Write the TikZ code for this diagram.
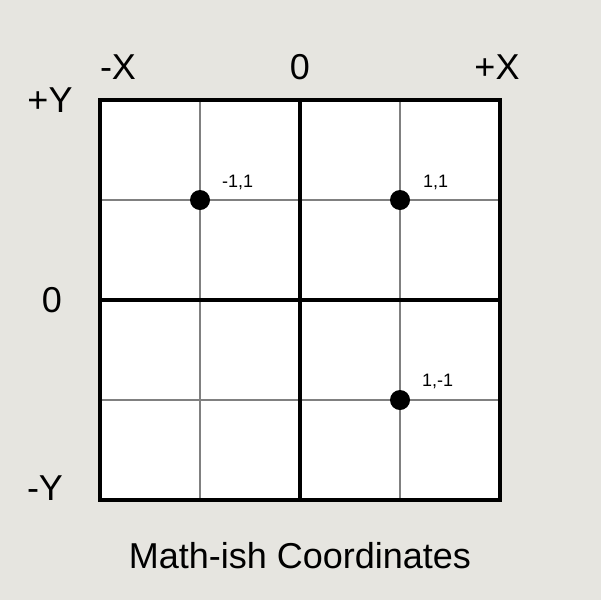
\documentclass[tikz,border=0pt]{standalone}
\usepackage{fontspec}
\setmainfont{Liberation Sans}
\definecolor{bg}{HTML}{E6E5E0}
\definecolor{thin}{HTML}{808080}
\begin{document}
\begin{tikzpicture}[x=1pt,y=-1pt,
  big/.style={font=\fontsize{36}{40}\selectfont, inner sep=0pt},
  small/.style={font=\fontsize{18}{20}\selectfont, inner sep=0pt, anchor=base west},
  thinline/.style={draw=thin, line width=1.2pt},
  thickline/.style={draw=black, line width=4pt},
  dot/.style={circle, fill=black, minimum size=20pt, inner sep=0pt}]
\fill[bg] (0,0) rectangle (601,600);
\useasboundingbox (0,0) rectangle (601,600);
\fill[white] (100,100) rectangle (500,500);
\foreach \v in {200,400} {
  \draw[thinline] (\v,100) -- (\v,500);
  \draw[thinline] (100,\v) -- (500,\v);
}
\draw[thickline] (300,98) -- (300,502);
\draw[thickline] (98,300) -- (502,300);
\draw[thickline] (100,100) rectangle (500,500);
\node[dot] (p1) at (200,200) {};
\node[dot] (p2) at (400,200) {};
\node[dot] (p3) at (400,400) {};
\node[small] (l1) at (222,187) {-1,1};
\node[small] (l2) at (423,187) {1,1};
\node[small] (l3) at (422,386) {1,-1};
\node[big, anchor=base] (mx) at (118,79) {-X};
\node[big, anchor=base] (zx) at (300,79) {0};
\node[big, anchor=base] (px) at (497,79) {+X};
\node[big, anchor=base] (py) at (50,112) {+Y};
\node[big, anchor=base] (zy) at (52,312) {0};
\node[big, anchor=base] (my) at (45,500) {-Y};
\node[big, anchor=base] (title) at (300,568) {Math-ish Coordinates};
\end{tikzpicture}
\end{document}
